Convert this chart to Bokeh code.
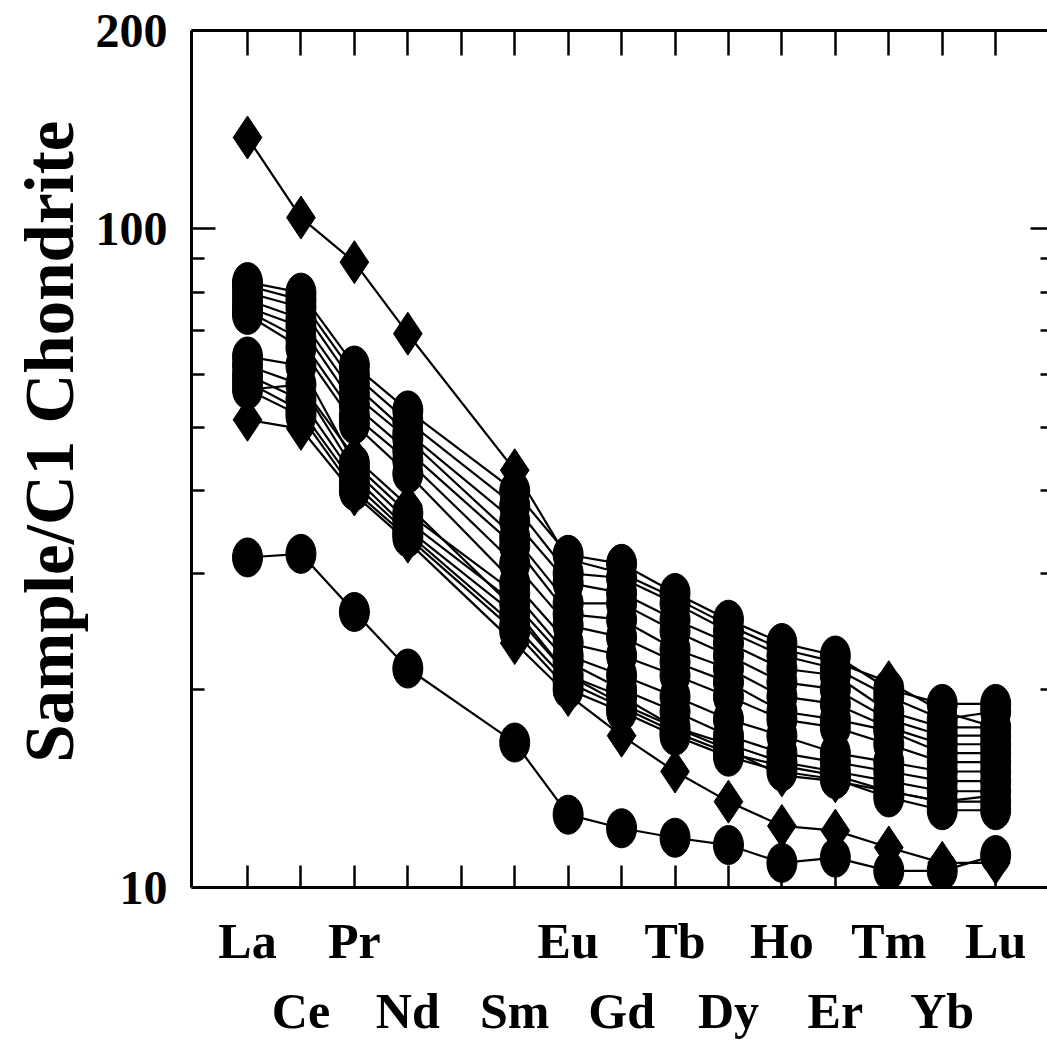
from bokeh.plotting import figure
from bokeh.models import Range1d, LogAxis, LinearAxis, FixedTicker, PrintfTickFormatter
from bokeh.embed import file_html
from bokeh.resources import INLINE

# ---- data ----
elements = ["La", "Ce", "Pr", "Nd", "Pm", "Sm", "Eu", "Gd", "Tb", "Dy", "Ho", "Er", "Tm", "Yb", "Lu"]
plotted = ["La", "Ce", "Pr", "Nd", "Sm", "Eu", "Gd", "Tb", "Dy", "Ho", "Er", "Tm", "Yb", "Lu"]
row1_labels = ["La", "Pr", "Eu", "Tb", "Ho", "Tm", "Lu"]
row2_labels = ["Ce", "Nd", "Sm", "Gd", "Dy", "Er", "Yb"]

y_major_ticks = [10, 100, 200]
y_minor_ticks = [20, 30, 40, 50, 60, 70, 80, 90]

diamond_1 = [137.6, 104, 89, 69.3, 43, 31.5, 30, 27.5, 25, 23, 22, 20.5, 18.5, 17.5]
diamond_2 = [51.3, 49.7, 39.5, 33.5, 23.5, 19.6, 17.0, 15.0, 13.5, 12.4, 12.2, 11.5, 10.9, 10.9]
diamond_3 = [57, 58, 45, 38, 26.5, 21, 19, 17.5, 16.2, 14.8, 14.5, 14, 13.5, 13.8]

circle_u1 = [83, 80, 62, 53, 40, 32, 31, 28, 25.5, 23.5, 22.5, 20, 19, 19]
circle_u2 = [82, 78, 60, 51, 38, 30, 29.5, 27, 24.5, 22.5, 21.5, 19.5, 18, 18.5]
circle_u3 = [80, 76, 58, 49, 36, 29, 28, 25.5, 23.5, 21.5, 21, 18.5, 17.5, 17.5]
circle_u4 = [78, 73, 56, 48, 34, 27, 27, 24.5, 22.5, 20.5, 20, 18, 17, 17]
circle_u5 = [76, 71, 54, 46, 33, 26, 25.5, 23, 21.5, 19.5, 19, 17.5, 16.5, 16.5]
circle_u6 = [75, 68, 52, 44.5, 31, 25, 24, 22, 20.5, 18.5, 18, 17.3, 16, 16]
circle_u7 = [74, 66, 50.5, 42.5, 29, 23.5, 22.5, 21, 19.5, 18, 17.5, 16.5, 15.5, 15.5]
circle_l1 = [64, 62, 44, 37, 28, 22.5, 21, 19.5, 18, 17, 16, 15.5, 15, 15]
circle_l2 = [62, 58, 43, 36, 27, 22, 20, 18.5, 17, 16, 15.5, 15, 14.5, 14.5]
circle_l3 = [60, 55, 42, 35, 26, 21, 19.5, 17.5, 16.5, 15.5, 15, 14.5, 14, 14]
circle_l4 = [58.5, 53, 41, 34.5, 25, 20.5, 18.8, 17.2, 16, 15.3, 14.8, 14, 13.5, 13.5]
circle_l5 = [57, 52, 40, 34, 24.5, 20, 18.5, 17, 15.8, 15, 14.6, 13.7, 13.1, 13.1]
circle_b = [31.7, 32.1, 26.2, 21.5, 16.6, 12.9, 12.3, 11.9, 11.6, 10.9, 11.1, 10.6, 10.6, 11.2]

diamond_series = [diamond_1, diamond_2, diamond_3]
circle_series = [circle_u1, circle_u2, circle_u3, circle_u4, circle_u5, circle_u6, circle_u7,
                 circle_l1, circle_l2, circle_l3, circle_l4, circle_l5, circle_b]

xpos = [elements.index(e) + 1 for e in plotted]
all_pos = list(range(1, len(elements) + 1))

FONT = "Liberation Serif"

p = figure(width=1047, height=1045, y_axis_type="log",
           x_range=Range1d(-0.048, 15.97), y_range=Range1d(10, 200),
           output_backend="svg", toolbar_location=None,
           min_border_left=191, min_border_top=30, min_border_bottom=158, min_border_right=0)
p.outline_line_color = None
p.grid.visible = False
p.background_fill_color = "white"

# lines first
for s in diamond_series + circle_series:
    p.line(xpos, s, line_color="black", line_width=2.2)
for s in circle_series:
    p.ellipse(x=xpos, y=s, width=30, height=39, width_units="screen", height_units="screen",
              fill_color="black", line_color="black")
for s in diamond_series:
    p.scatter(xpos, s, marker="diamond", size=43, fill_color="black", line_color="black")

# left axis
ya = p.yaxis[0]
ya.ticker = FixedTicker(ticks=y_major_ticks, minor_ticks=y_minor_ticks)
ya.formatter = PrintfTickFormatter(format="%d")
ya.major_tick_in = 24
ya.major_tick_out = 0
ya.minor_tick_in = 13
ya.minor_tick_out = 0
ya.major_tick_line_width = 2.5
ya.minor_tick_line_width = 2.5
ya.axis_line_width = 3
ya.major_label_standoff = 24
ya.major_label_text_font = FONT
ya.major_label_text_font_style = "bold"
ya.major_label_text_font_size = "48px"
ya.major_label_text_color = "black"
ya.axis_label = "\u00a0\u00a0Sample/C1 Chondrite"
ya.axis_label_text_font = FONT
ya.axis_label_text_font_style = "bold"
ya.axis_label_text_font_size = "69px"
ya.axis_label_text_color = "black"
ya.axis_label_standoff = 5

# right axis (ticks only)
ra = LogAxis(ticker=FixedTicker(ticks=y_major_ticks, minor_ticks=y_minor_ticks))
ra.axis_line_color = None
ra.major_tick_in = 17
ra.major_tick_out = 0
ra.minor_tick_in = 7
ra.minor_tick_out = 0
ra.major_tick_line_width = 2.5
ra.minor_tick_line_width = 2.5
ra.major_label_overrides = {t: "" for t in y_major_ticks}
ra.major_label_text_font_size = "1px"
ra.major_label_standoff = 0
p.add_layout(ra, "right")

# bottom axis row 1
xa = p.xaxis[0]
xa.ticker = FixedTicker(ticks=all_pos)
xa.major_label_overrides = {i: (elements[i - 1] if elements[i - 1] in row1_labels else "") for i in all_pos}
xa.major_tick_in = 22
xa.major_tick_out = 0
xa.minor_tick_line_color = None
xa.major_tick_line_width = 2.5
xa.axis_line_width = 3
xa.major_label_standoff = 25
xa.major_label_text_font = FONT
xa.major_label_text_font_style = "bold"
xa.major_label_text_font_size = "50px"
xa.major_label_text_color = "black"

# bottom axis row 2
row2_pos = [elements.index(e) + 1 for e in row2_labels]
xb = LinearAxis(ticker=FixedTicker(ticks=row2_pos))
xb.major_label_overrides = {pos: lab for pos, lab in zip(row2_pos, row2_labels)}
xb.axis_line_color = None
xb.major_tick_line_color = None
xb.minor_tick_line_color = None
xb.major_tick_in = 0
xb.major_tick_out = 0
xb.major_label_standoff = 11
xb.major_label_text_font = FONT
xb.major_label_text_font_style = "bold"
xb.major_label_text_font_size = "50px"
xb.major_label_text_color = "black"
p.add_layout(xb, "below")

# top axis (ticks only)
ta = LinearAxis(ticker=FixedTicker(ticks=all_pos))
ta.major_tick_in = 25
ta.major_tick_out = 0
ta.minor_tick_line_color = None
ta.major_tick_line_width = 2.5
ta.axis_line_width = 3
ta.major_label_overrides = {i: "" for i in all_pos}
ta.major_label_text_font_size = "1px"
ta.major_label_standoff = 0
p.add_layout(ta, "above")

open("out.html", "w").write(file_html(p, INLINE))
